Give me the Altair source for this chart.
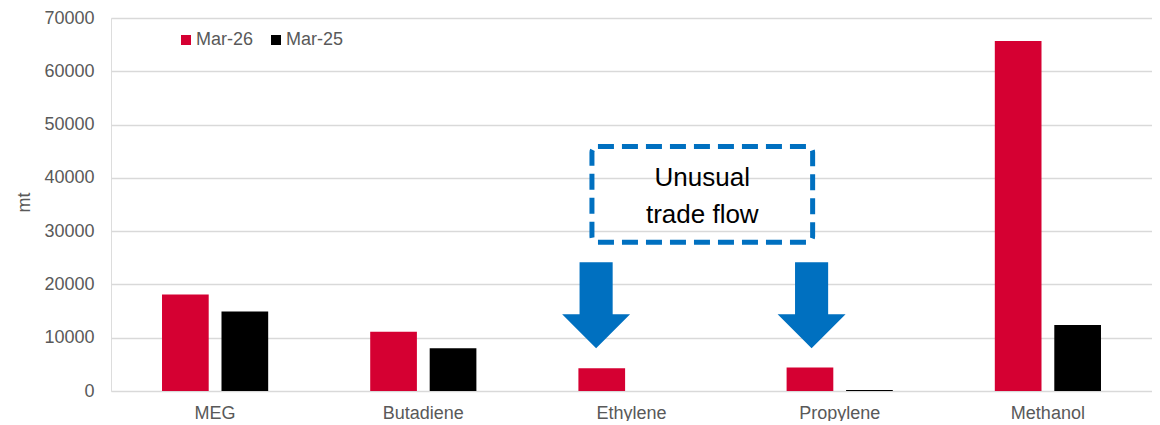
import altair as alt
import pandas as pd

categories = ["MEG", "Butadiene", "Ethylene", "Propylene", "Methanol"]
mar26 = [18100, 11100, 4250, 4400, 65700]
mar25 = [14900, 8000, 0, 200, 12400]
series = ["Mar-26", "Mar-25"]
colors = ["#D50032", "#000000"]
y_ticks = [0, 10000, 20000, 30000, 40000, 50000, 60000, 70000]

# annotation positions in category-index units (0..5) and data units
box_x = [2.31, 3.37]
box_y = [27900, 45900]
note_lines = ["Unusual", "trade flow"]
note_x = [2.84, 2.84]
note_y = [39900, 33100]
arrow_x = [2.33, 3.365]
arrow_y = [16100, 16100]

rows = []
for i, c in enumerate(categories):
    rows.append({"product": c, "series": "Mar-26", "mt": mar26[i]})
    rows.append({"product": c, "series": "Mar-25", "mt": mar25[i]})
df = pd.DataFrame(rows)

FONT = "Liberation Sans"
GRAY = "#595959"

bars = alt.Chart(df).mark_bar().encode(
    x=alt.X("product:N", sort=categories, title=None,
            scale=alt.Scale(paddingInner=0.49, paddingOuter=0.245),
            axis=alt.Axis(labelAngle=0, labelFontSize=18, labelColor=GRAY, labelFont=FONT,
                          ticks=False, domain=False, labelPadding=13, grid=False)),
    xOffset=alt.XOffset("series:N", sort=series,
                        scale=alt.Scale(paddingInner=0.215, paddingOuter=0)),
    y=alt.Y("mt:Q", title="mt",
            scale=alt.Scale(domain=[0, 70000], nice=False),
            axis=alt.Axis(values=y_ticks, format="d", labelFontSize=18, labelColor=GRAY,
                          labelFont=FONT, ticks=False, domain=False, labelPadding=17,
                          gridColor="#d9d9d9", gridWidth=1.5,
                          titleFontSize=18, titleFont=FONT, titleColor=GRAY,
                          titleFontWeight="normal", titleX=-78, titleY=184, titleAngle=-90)),
    color=alt.Color("series:N", sort=series,
                    scale=alt.Scale(domain=series, range=colors),
                    legend=alt.Legend(title=None, orient="none", direction="horizontal",
                                      legendX=66, legendY=13, symbolType="square",
                                      symbolSize=100, symbolStrokeWidth=0,
                                      labelFontSize=18, labelColor=GRAY, labelFont=FONT,
                                      labelOffset=1, columnPadding=13, padding=0)),
)

box_df = pd.DataFrame({"x": [box_x[0]], "x2": [box_x[1]], "y": [box_y[0]], "y2": [box_y[1]]})
xq = alt.Scale(domain=[0, 5], nice=False, zero=False)

box = alt.Chart(box_df).mark_rect(
    fillOpacity=0, stroke="#0070C0", strokeWidth=5, strokeDash=[16, 8], cornerRadius=6
).encode(
    x=alt.X("x:Q", scale=xq, axis=None), x2="x2:Q",
    y=alt.Y("y:Q"), y2="y2:Q",
)

note_df = pd.DataFrame({"x": note_x, "y": note_y, "t": note_lines})
notes = alt.Chart(note_df).mark_text(
    fontSize=26, font=FONT, color="#000000", align="center", baseline="middle"
).encode(
    x=alt.X("x:Q", scale=xq, axis=None), y=alt.Y("y:Q"), text="t:N"
)

arrow_path = "M -0.385 -1 L 0.385 -1 L 0.385 0.21 L 0.79 0.21 L 0 1 L -0.79 0.21 L -0.385 0.21 Z"
arrow_df = pd.DataFrame({"x": arrow_x, "y": arrow_y})
arrows = alt.Chart(arrow_df).mark_point(
    shape=arrow_path, size=7396, filled=True, fill="#0070C0", opacity=1, strokeWidth=0
).encode(
    x=alt.X("x:Q", scale=xq, axis=None), y=alt.Y("y:Q")
)

ann = alt.layer(box, notes, arrows)

chart = alt.layer(bars, ann).resolve_scale(x="independent").properties(
    width=1041, height=373,
    autosize=alt.AutoSizeParams(type="none"),
    padding={"left": 103, "top": 10, "right": 0, "bottom": 30},
).configure_view(stroke=None).configure(font=FONT)

chart.save("out.html", embed_options={"renderer": "svg", "actions": False})
